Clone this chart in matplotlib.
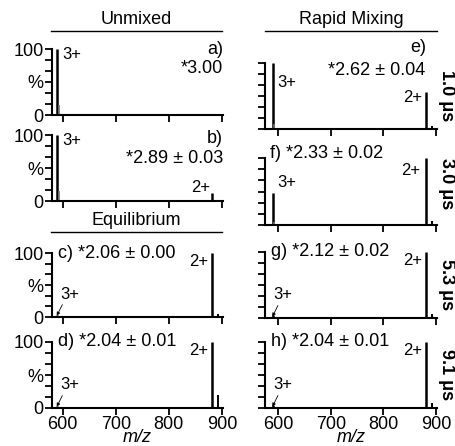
import numpy as np
import matplotlib
matplotlib.use('Agg')
import matplotlib.pyplot as plt
from matplotlib.lines import Line2D

plt.rcParams['font.family'] = ['Liberation Sans', 'DejaVu Sans']
plt.rcParams['font.size'] = 13

# peak positions (m/z): 3+, 3+ adduct, 2+, 2+ adduct
peak_mz = [590, 593, 881, 892]

int_a = [100, 15, 0, 0]
int_b = [100, 15, 12, 2]
int_c = [3, 0, 100, 4]
int_d = [3, 0, 100, 20]
int_e = [100, 8, 56, 4]
int_f = [48, 5, 100, 6]
int_g = [5, 0, 100, 6]
int_h = [4, 0, 100, 8]

avg_text = ['*3.00', '*2.89 \u00b1 0.03', '*2.06 \u00b1 0.00', '*2.04 \u00b1 0.01',
            '*2.62 \u00b1 0.04', '*2.33 \u00b1 0.02', '*2.12 \u00b1 0.02', '*2.04 \u00b1 0.01']
panel_ids = ['a)', 'b)', 'c)', 'd)', 'e)', 'f)', 'g)', 'h)']
times = ['1.0 \u03bcs', '3.0 \u03bcs', '5.3 \u03bcs', '9.1 \u03bcs']
xticks = [600, 700, 800, 900]

W, H = 456, 446
fig = plt.figure(figsize=(W / 100, H / 100), dpi=100)


def rect(x0, x1, y0, y1):
    return [x0 / W, 1 - y1 / H, (x1 - x0) / W, (y1 - y0) / H]


boxes = [rect(52, 223, 49, 115), rect(52, 223, 135, 201),
         rect(52, 223, 253, 317), rect(52, 223, 342, 408),
         rect(265, 437, 63, 129), rect(265, 437, 158, 225),
         rect(265, 437, 252, 318), rect(265, 437, 342, 408)]
xlims = [(580, 902)] * 4 + [(575, 902)] * 4
data = [int_a, int_b, int_c, int_d, int_e, int_f, int_g, int_h]

axes = []
for i in range(8):
    ax = fig.add_axes(boxes[i])
    ax.vlines(peak_mz[0], 0, data[i][0], color='black', lw=1.8)
    ax.vlines(peak_mz[1], 0, data[i][1], color='0.45', lw=1.2)
    ax.vlines(peak_mz[2], 0, data[i][2], color='black', lw=1.8)
    ax.vlines(peak_mz[3], 0, data[i][3], color='black', lw=1.4)
    ax.set_xlim(*xlims[i])
    ax.set_ylim(0, 100)
    for s in ['top', 'right']:
        ax.spines[s].set_visible(False)
    for s in ['left', 'bottom']:
        ax.spines[s].set_linewidth(1.5)
    ax.set_xticks(xticks)
    ax.set_yticks(np.linspace(0, 100, 7))
    ax.tick_params(width=1.3, length=5, direction='out', pad=1, labelsize=13)
    if i < 4:
        ax.set_yticklabels(['0', '', '', '%', '', '', '100'])
    else:
        ax.set_yticklabels([])
    if i in (3, 7):
        ax.set_xlabel('m/z', style='italic', labelpad=-3)
    else:
        ax.set_xticklabels([])
    axes.append(ax)

# panel labels
a, b, c, d, e, f, g, h = axes
a.text(1.0, 1.0, 'a)', transform=a.transAxes, ha='right', va='center')
a.text(1.0, 0.70, avg_text[0], transform=a.transAxes, ha='right', va='center')
a.text(0.06, 0.91, '3+', transform=a.transAxes, ha='left', va='center', fontsize=12)

b.text(1.0, 0.94, 'b)', transform=b.transAxes, ha='right', va='center')
b.text(1.0, 0.65, avg_text[1], transform=b.transAxes, ha='right', va='center')
b.text(0.06, 0.92, '3+', transform=b.transAxes, ha='left', va='center', fontsize=12)
b.text(0.925, 0.2, '2+', transform=b.transAxes, ha='right', va='center', fontsize=12)

e.text(0.94, 1.24, 'e)', transform=e.transAxes, ha='right', va='center')
e.text(0.93, 0.89, avg_text[4], transform=e.transAxes, ha='right', va='center')
e.text(0.07, 0.70, '3+', transform=e.transAxes, ha='left', va='center', fontsize=12)
e.text(0.915, 0.47, '2+', transform=e.transAxes, ha='right', va='center', fontsize=12)

f.text(0.03, 1.07, panel_ids[5] + ' ' + avg_text[5], transform=f.transAxes,
       ha='left', va='center')
f.text(0.07, 0.63, '3+', transform=f.transAxes, ha='left', va='center', fontsize=12)
f.text(0.9, 0.82, '2+', transform=f.transAxes, ha='right', va='center', fontsize=12)

for ax, k in [(c, 2), (d, 3), (g, 6), (h, 7)]:
    ax.text(0.035, 1.0, panel_ids[k] + ' ' + avg_text[k], transform=ax.transAxes,
            ha='left', va='center')
    ax.text(0.915, 0.87, '2+', transform=ax.transAxes, ha='right', va='center',
            fontsize=12)
    ax.text(0.05, 0.35, '3+', transform=ax.transAxes, ha='left', va='center',
            fontsize=12)
    ax.annotate('', xy=(peak_mz[0] - 1, 2), xytext=(4, 8), textcoords='offset points',
                arrowprops=dict(arrowstyle='-|>', lw=0.6, color='black',
                                mutation_scale=5, shrinkA=0, shrinkB=0))

# time labels
for ax, t, yy in zip([e, f, g, h], times, [0.5, 0.62, 0.5, 0.5]):
    ax.text(1.055, yy, t, transform=ax.transAxes, rotation=270, ha='center',
            va='center', fontweight='bold', fontsize=13)

# column headers
for label, x0, x1, yl in [('Unmixed', 51, 222, 31), ('Rapid Mixing', 265, 437, 31),
                          ('Equilibrium', 51, 222, 232)]:
    fig.text((x0 + x1) / 2 / W, 1 - (yl - 3) / H, label, ha='center', va='bottom')
    fig.add_artist(Line2D([x0 / W, x1 / W], [1 - yl / H, 1 - yl / H],
                          color='black', lw=1.0))

fig.savefig('out.png', dpi=100)
